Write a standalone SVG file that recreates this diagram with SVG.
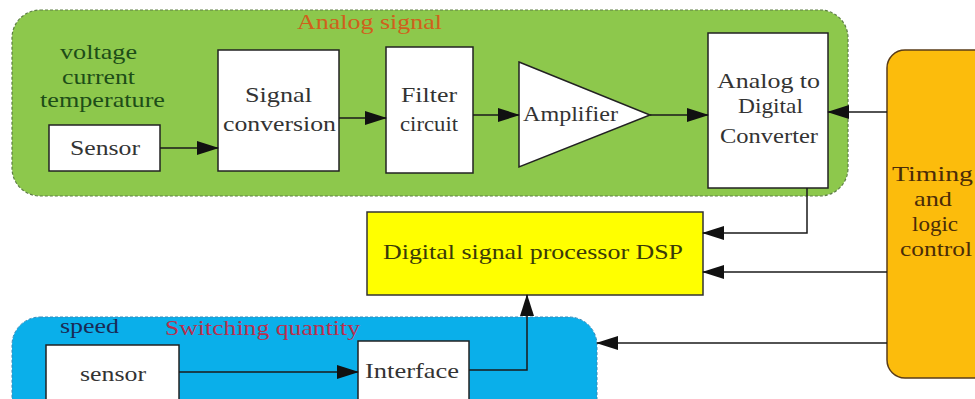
<svg xmlns="http://www.w3.org/2000/svg" width="975" height="399" viewBox="0 0 975 399">
<defs>
<marker id="arr" markerUnits="userSpaceOnUse" markerWidth="22" markerHeight="14" refX="21" refY="7" orient="auto">
<path d="M0,0 L22,7 L0,14 z" fill="#111"/>
</marker>
<style>
.box{fill:#ffffff;stroke:#222;stroke-width:1.5;}
.t{font-family:"Liberation Serif","Times New Roman",serif;font-size:21px;}
.con path{fill:none;stroke:#1a1a1a;stroke-width:1.5;marker-end:url(#arr);}
</style>
</defs>
<rect width="975" height="399" fill="#ffffff"/>

<g id="analog-region">
<rect x="12" y="10" width="836" height="186" rx="28" fill="#8dc84c" stroke="#5e7f45" stroke-width="1.2" stroke-dasharray="3,2"/>
<text class="t" x="297" y="29" fill="#d0601c" textLength="145" lengthAdjust="spacingAndGlyphs">Analog signal</text>
<text class="t" x="60" y="59" fill="#1d4d18" textLength="77" lengthAdjust="spacingAndGlyphs">voltage</text>
<text class="t" x="62" y="84" fill="#1d4d18" textLength="73" lengthAdjust="spacingAndGlyphs">current</text>
<text class="t" x="40" y="107" fill="#1d4d18" textLength="125" lengthAdjust="spacingAndGlyphs">temperature</text>
</g>

<g id="switching-region">
<rect x="12" y="317" width="585" height="110" rx="28" fill="#0aafea" stroke="#3a8ab8" stroke-width="1" stroke-dasharray="3,2"/>
<text class="t" x="60" y="333" fill="#1a2a55" textLength="59" lengthAdjust="spacingAndGlyphs">speed</text>
<text class="t" x="165" y="335" fill="#b8304e" textLength="195" lengthAdjust="spacingAndGlyphs">Switching quantity</text>
</g>

<g id="sensor">
<rect class="box" x="49" y="125" width="111" height="46"/>
<text class="t" x="70" y="155" fill="#333" textLength="70" lengthAdjust="spacingAndGlyphs">Sensor</text>
</g>

<g id="signal-conversion">
<rect class="box" x="218" y="50" width="121" height="121"/>
<text class="t" x="245" y="102" fill="#333" textLength="67" lengthAdjust="spacingAndGlyphs">Signal</text>
<text class="t" x="223" y="131" fill="#333" textLength="113" lengthAdjust="spacingAndGlyphs">conversion</text>
</g>

<g id="filter-circuit">
<rect class="box" x="386" y="47" width="87" height="126"/>
<text class="t" x="401" y="102" fill="#333" textLength="56" lengthAdjust="spacingAndGlyphs">Filter</text>
<text class="t" x="400" y="131" fill="#333" textLength="58" lengthAdjust="spacingAndGlyphs">circuit</text>
</g>

<g id="amplifier">
<polygon points="519,62 650,115 519,167" fill="#ffffff" stroke="#222" stroke-width="1.5"/>
<text class="t" x="523" y="121" fill="#333" textLength="95" lengthAdjust="spacingAndGlyphs">Amplifier</text>
</g>

<g id="adc">
<rect class="box" x="708" y="33" width="120" height="155"/>
<text class="t" x="717" y="88" fill="#333" textLength="103" lengthAdjust="spacingAndGlyphs">Analog to</text>
<text class="t" x="738" y="113" fill="#333" textLength="65" lengthAdjust="spacingAndGlyphs">Digital</text>
<text class="t" x="720" y="143" fill="#333" textLength="98" lengthAdjust="spacingAndGlyphs">Converter</text>
</g>

<g id="timing-logic">
<rect x="887" y="50" width="110" height="328" rx="18" fill="#fcbc0c" stroke="#5a3c18" stroke-width="1.5"/>
<text class="t" x="892" y="181" fill="#4a2c08" textLength="81" lengthAdjust="spacingAndGlyphs">Timing</text>
<text class="t" x="914" y="206" fill="#4a2c08" textLength="38" lengthAdjust="spacingAndGlyphs">and</text>
<text class="t" x="912" y="231" fill="#4a2c08" textLength="46" lengthAdjust="spacingAndGlyphs">logic</text>
<text class="t" x="900" y="256" fill="#4a2c08" textLength="72" lengthAdjust="spacingAndGlyphs">control</text>
</g>

<g id="dsp">
<rect x="367" y="212" width="336" height="83" fill="#ffff00" stroke="#333" stroke-width="1.5"/>
<text class="t" x="383" y="259" fill="#3a3a08" textLength="300" lengthAdjust="spacingAndGlyphs">Digital signal processor DSP</text>
</g>

<g id="sensor2">
<rect class="box" x="46" y="345" width="133" height="70"/>
<text class="t" x="80" y="381" fill="#333" textLength="66" lengthAdjust="spacingAndGlyphs">sensor</text>
</g>

<g id="interface">
<rect class="box" x="358" y="341" width="111" height="70"/>
<text class="t" x="365" y="378" fill="#333" textLength="94" lengthAdjust="spacingAndGlyphs">Interface</text>
</g>

<g id="connectors" class="con">
<path d="M160,148 H218"/>
<path d="M339,118 H386"/>
<path d="M473,115 H519"/>
<path d="M650,115 H708"/>
<path d="M887,112 H828"/>
<path d="M807,188 V233 H703"/>
<path d="M887,272 H703"/>
<path d="M887,343 H597"/>
<path d="M179,372 H358"/>
<path d="M469,370 H527 V295"/>
</g>
</svg>
